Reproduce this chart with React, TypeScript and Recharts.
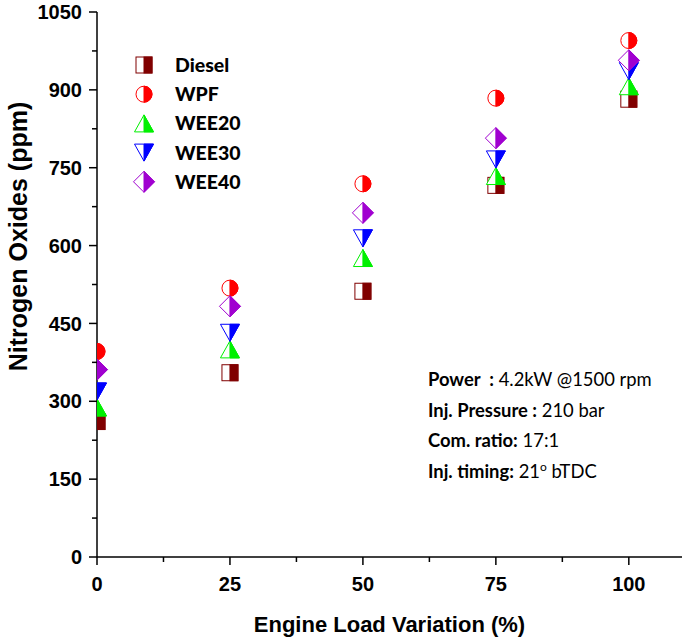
import { ScatterChart, Scatter, XAxis, YAxis } from "recharts";

// engine load (%) on the x axis
const loads = [0, 25, 50, 75, 100];

// NOx (ppm)
const diesel = [261, 355, 512, 716, 882];
const wpf = [396, 518, 719, 884, 995];
const wee20 = [288, 400, 576, 734, 907];
const wee30 = [319, 432, 614, 766, 936];
const wee40 = [361, 483, 663, 807, 957];

const xTicks = [0, 12.5, 25, 37.5, 50, 62.5, 75, 87.5, 100];
const yTicks = [0, 75, 150, 225, 300, 375, 450, 525, 600, 675, 750, 825, 900, 975, 1050];

type Kind = "square" | "circle" | "up" | "down" | "diamond";

const series: { name: string; values: number[]; kind: Kind; color: string }[] = [
  { name: "Diesel", values: diesel, kind: "square", color: "#800000" },
  { name: "WPF", values: wpf, kind: "circle", color: "#ff0000" },
  { name: "WEE20", values: wee20, kind: "up", color: "#00f000" },
  { name: "WEE30", values: wee30, kind: "down", color: "#0000ff" },
  { name: "WEE40", values: wee40, kind: "diamond", color: "#a000d0" },
];

const AXIS_FONT = '"Liberation Sans", Arial, sans-serif';
const TEXT_FONT = 'Lato, "Open Sans", sans-serif';

const X_TICK_SIZE = 8;
const X_TICK_MARGIN = 12;
const Y_TICK_SIZE = 8;
const Y_TICK_MARGIN = 7;

/** Origin-style half-filled marker: left half white, right half solid. */
function Marker({ cx, cy, kind, color }: { cx: number; cy: number; kind: Kind; color: string }) {
  if (cx == null || cy == null) return <g />;
  const sw = 1;
  if (kind === "square") {
    const s = 8;
    return (
      <g>
        <rect x={cx - s} y={cy - s} width={2 * s} height={2 * s} fill="#fff" stroke={color} strokeWidth={sw} />
        <rect x={cx} y={cy - s} width={s} height={2 * s} fill={color} stroke={color} strokeWidth={sw} />
      </g>
    );
  }
  if (kind === "circle") {
    const r = 8;
    return (
      <g>
        <circle cx={cx} cy={cy} r={r} fill="#fff" stroke={color} strokeWidth={sw} />
        <path d={`M${cx},${cy - r} A${r},${r} 0 0 1 ${cx},${cy + r} Z`} fill={color} stroke={color} strokeWidth={sw} />
      </g>
    );
  }
  if (kind === "up") {
    const w = 9.5;
    const h = 8.5;
    return (
      <g>
        <polygon points={`${cx},${cy - h} ${cx + w},${cy + h} ${cx - w},${cy + h}`} fill="#fff" stroke={color} strokeWidth={sw} />
        <polygon points={`${cx},${cy - h} ${cx + w},${cy + h} ${cx},${cy + h}`} fill={color} stroke={color} strokeWidth={sw} />
      </g>
    );
  }
  if (kind === "down") {
    const w = 9.5;
    const h = 8.5;
    return (
      <g>
        <polygon points={`${cx - w},${cy - h} ${cx + w},${cy - h} ${cx},${cy + h}`} fill="#fff" stroke={color} strokeWidth={sw} />
        <polygon points={`${cx},${cy - h} ${cx + w},${cy - h} ${cx},${cy + h}`} fill={color} stroke={color} strokeWidth={sw} />
      </g>
    );
  }
  const r = 10.5;
  return (
    <g>
      <polygon points={`${cx},${cy - r} ${cx + r},${cy} ${cx},${cy + r} ${cx - r},${cy}`} fill="#fff" stroke={color} strokeWidth={sw} />
      <polygon points={`${cx},${cy - r} ${cx + r},${cy} ${cx},${cy + r}`} fill={color} stroke={color} strokeWidth={sw} />
    </g>
  );
}

function XTick(props: any) {
  const { x, y, payload } = props;
  const major = payload.value % 25 === 0;
  const axisY = y - X_TICK_SIZE - X_TICK_MARGIN;
  return (
    <g>
      <line x1={x} x2={x} y1={axisY} y2={axisY + (major ? 8 : 5)} stroke="#000" strokeWidth={1.5} />
      {major && (
        <text x={x} y={y} dy="0.71em" textAnchor="middle" fontFamily={AXIS_FONT} fontWeight="bold" fontSize={20} fill="#000">
          {payload.value}
        </text>
      )}
    </g>
  );
}

function YTick(props: any) {
  const { x, y, payload } = props;
  const major = payload.value % 150 === 0;
  const axisX = x + Y_TICK_SIZE + Y_TICK_MARGIN;
  return (
    <g>
      <line x1={axisX} x2={axisX - (major ? 8 : 5)} y1={y} y2={y} stroke="#000" strokeWidth={1.5} />
      {major && (
        <text x={x} y={y} dy="0.355em" textAnchor="end" fontFamily={AXIS_FONT} fontWeight="bold" fontSize={20} fill="#000">
          {payload.value}
        </text>
      )}
    </g>
  );
}

const notes: [string, string][] = [
  ["Power  :", " 4.2kW @1500 rpm"],
  ["Inj. Pressure :", " 210 bar"],
  ["Com. ratio:", " 17:1"],
  ["Inj. timing:", " 21"],
];

export default function App() {
  return (
    <div style={{ position: "absolute", left: 0, top: 0, width: 685, height: 641, background: "#fff" }}>
      <ScatterChart width={685} height={641} margin={{ top: 12, right: 3, bottom: 0, left: 0 }}>
        <XAxis
          type="number"
          dataKey="x"
          domain={[0, 110]}
          ticks={xTicks}
          interval={0}
          allowDataOverflow
          tickSize={X_TICK_SIZE}
          tickMargin={X_TICK_MARGIN}
          tickLine={false}
          tick={<XTick />}
          axisLine={{ stroke: "#000", strokeWidth: 1.5 }}
          height={84}
          label={{
            value: "Engine Load Variation (%)",
            position: "insideBottom",
            offset: 9,
            style: { fontFamily: AXIS_FONT, fontWeight: "bold", fontSize: 22, fill: "#000" },
          }}
        />
        <YAxis
          type="number"
          dataKey="y"
          domain={[0, 1050]}
          ticks={yTicks}
          interval={0}
          tickSize={Y_TICK_SIZE}
          tickMargin={Y_TICK_MARGIN}
          tickLine={false}
          tick={<YTick />}
          axisLine={{ stroke: "#000", strokeWidth: 1.5 }}
          width={97}
          label={{
            value: "Nitrogen Oxides (ppm)",
            angle: -90,
            position: "insideLeft",
            offset: 18,
            dy: -48,
            style: { textAnchor: "middle", fontFamily: AXIS_FONT, fontWeight: "bold", fontSize: 25, fill: "#000" },
          }}
        />
        {series.map((s) => (
          <Scatter
            key={s.name}
            name={s.name}
            data={loads.map((x, i) => ({ x, y: s.values[i] }))}
            shape={(p: any) => <Marker cx={p.cx} cy={p.cy} kind={s.kind} color={s.color} />}
            isAnimationActive={false}
          />
        ))}
      </ScatterChart>

      {/* legend + test conditions, drawn on top like the Origin text boxes */}
      <svg width={685} height={641} style={{ position: "absolute", left: 0, top: 0, pointerEvents: "none" }}>
        {series.map((s, i) => {
          const cy = 65 + i * 29.2;
          return (
            <g key={s.name}>
              <Marker cx={144} cy={cy} kind={s.kind} color={s.color} />
              <text x={175} y={cy} dy="0.36em" fontFamily={TEXT_FONT} fontWeight="900" fontSize={19.5} fill="#000">
                {s.name}
              </text>
            </g>
          );
        })}
        {notes.map(([b, r], i) => (
          <text
            key={b}
            x={428}
            y={386 + i * 30.7}
            fontFamily={TEXT_FONT}
            fontSize={18.4}
            fill="#000"
            style={{ whiteSpace: "pre" }}
          >
            <tspan fontWeight="bold">{b}</tspan>
            <tspan>{r}</tspan>
            {i === 3 && (
              <>
                <tspan dy={-7} fontSize={12}>o</tspan>
                <tspan dy={7}> bTDC</tspan>
              </>
            )}
          </text>
        ))}
      </svg>
    </div>
  );
}
